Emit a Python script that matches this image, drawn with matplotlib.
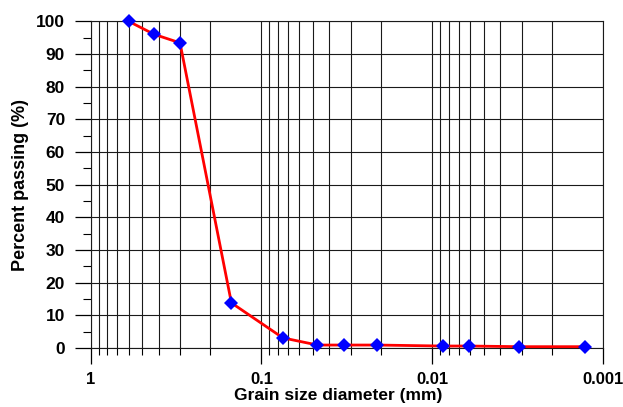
"""
Grain size distribution curve (percent passing vs grain diameter).

Writes out.png.
"""
import matplotlib
matplotlib.use("Agg")
import matplotlib.pyplot as plt
from matplotlib.ticker import FixedLocator, LogLocator, NullFormatter, MultipleLocator

# sieve / hydrometer results
diameter_mm = [0.6, 0.425, 0.3, 0.15, 0.075, 0.047, 0.033, 0.021,
               0.0087, 0.0061, 0.0031, 0.00127]
passing_pct = [100, 96, 93.4, 13.8, 3.1, 0.9, 0.9, 0.9,
               0.6, 0.6, 0.4, 0.4]

x_ticks = [1, 0.1, 0.01, 0.001]
x_tick_labels = ["1", "0.1", "0.01", "0.001"]
y_ticks = list(range(0, 101, 10))


def main():
    plt.rcParams["font.family"] = ["Liberation Sans", "DejaVu Sans"]
    plt.rcParams["font.weight"] = "bold"

    fig = plt.figure(figsize=(6.23, 4.07), dpi=100)
    ax = fig.add_axes([0.1456, 0.145, 0.8224, 0.8027])

    ax.plot(diameter_mm, passing_pct, "-", color="#ff0000", linewidth=2.0,
            zorder=3, clip_on=False)
    ax.plot(diameter_mm, passing_pct, "D", color="#0000ff", markersize=7,
            markeredgewidth=0, zorder=4, clip_on=False)

    ax.set_xscale("log")
    ax.set_xlim(1, 0.001)
    ax.set_ylim(0, 100)

    ax.xaxis.set_major_locator(FixedLocator(x_ticks))
    ax.set_xticklabels(x_tick_labels)
    ax.xaxis.set_minor_locator(LogLocator(base=10, subs=range(2, 10)))
    ax.xaxis.set_minor_formatter(NullFormatter())
    ax.set_yticks(y_ticks)
    ax.yaxis.set_minor_locator(MultipleLocator(5))

    ax.tick_params(axis="x", which="major", direction="out", length=11.5,
                   width=0.9, pad=6, labelsize=12)
    ax.tick_params(axis="x", which="minor", direction="out", length=5,
                   width=0.8)
    ax.tick_params(axis="y", which="major", direction="out", length=11.5,
                   width=0.9, pad=7, labelsize=12.5)
    ax.tick_params(axis="y", which="minor", direction="out", length=6,
                   width=0.8)

    ax.grid(axis="x", which="both", color="#1a1a1a", linewidth=0.8)
    ax.grid(axis="y", which="major", color="#1a1a1a", linewidth=0.8)
    for s in ax.spines.values():
        s.set_linewidth(0.8)
        s.set_color("#1a1a1a")

    ax.set_xlabel("Grain size diameter (mm)", fontsize=12.5, fontweight="bold")
    ax.xaxis.set_label_coords(0.483, -0.121)
    ax.set_ylabel("Percent passing (%)", fontsize=13, fontweight="bold")
    ax.yaxis.set_label_coords(-0.12, 0.5)

    fig.savefig("out.png", dpi=100)
    plt.close(fig)


if __name__ == "__main__":
    main()
